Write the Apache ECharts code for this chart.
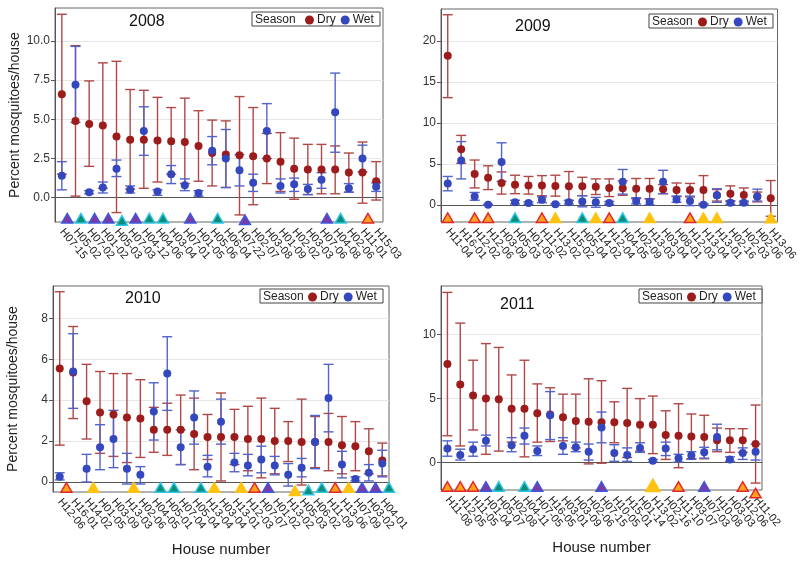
<!DOCTYPE html>
<html><head><meta charset="utf-8">
<script src="https://cdn.jsdelivr.net/npm/echarts@6/dist/echarts.min.js"></script>
<style>html,body{margin:0;padding:0;background:#fff}#c{width:800px;height:561px}</style>
</head><body><div id="c"></div>
<script>
// ---------- DATA ----------
const labels2008 = ['H07-15','H05-02','H07-02','H01-02','H05-03','H07-03','H04-12','H04-06','H03-04','H07-01','H01-05','H05-06','H06-04','H07-22','H02-07','H03-08','H01-09','H02-02','H03-03','H07-06','H04-08','H02-06','H11-01','H15-03'];
const dryMean2008 = [6.6,4.9,4.7,4.6,3.9,3.7,3.7,3.65,3.6,3.55,3.3,2.85,2.75,2.7,2.65,2.5,2.3,1.85,1.8,1.8,1.8,1.6,1.6,1.05];
const dryLow2008  = [1.5,0.1,2.0,0.6,-0.95,0.55,0.6,1.0,1.5,0.9,1.05,0.75,0.65,-1.1,-0.45,0.9,0.4,-0.1,0.2,0.25,0.25,0.35,-0.35,-0.15];
const dryHigh2008 = [11.7,9.7,7.45,8.6,8.7,6.9,6.85,6.4,5.75,6.35,5.55,4.95,4.9,6.45,5.75,4.1,4.15,3.8,3.4,3.4,3.3,2.85,3.55,2.3];
const wetMean2008 = [1.4,7.2,0.35,0.65,1.85,0.5,4.25,0.4,1.5,0.8,0.3,3.0,2.5,1.75,0.95,4.25,0.75,0.85,0.55,1.15,5.45,0.6,2.5,0.7];
const wetLow2008  = [0.5,4.8,0.25,0.3,1.35,0.3,2.7,0.15,0.9,0.45,0.1,2.1,0.65,0.75,0.4,2.5,0.3,0.4,0.2,0.6,2.9,0.35,1.65,0.4];
const wetHigh2008 = [2.3,9.65,0.45,1.0,2.4,0.75,5.8,0.5,2.05,1.2,0.45,3.9,4.35,2.75,1.5,6.0,1.2,1.25,0.85,1.6,7.95,0.9,3.35,0.95];
// triangle markers: [category number (1-based), level, kind]
const tri2008 = [[1,-1.32,'P'],[2,-1.32,'T'],[3,-1.32,'P'],[4,-1.32,'P'],[5,-1.47,'T'],[6,-1.32,'P'],[7,-1.32,'T'],[8,-1.32,'T'],[10,-1.32,'P'],[12,-1.32,'T'],[14,-1.43,'P'],[20,-1.32,'P'],[21,-1.32,'T'],[23,-1.32,'R']];
const yTicks2008 = [0,2.5,5,7.5,10];

const labels2009 = ['H11-04','H16-01','H12-02','H12-06','H03-09','H05-03','H01-05','H11-02','H13-02','H15-02','H05-04','H14-02','H12-04','H04-05','H02-09','H13-03','H03-04','H08-01','H12-03','H13-04','H13-01','H02-16','H02-03','H02-06','H13-06'];
const dryMean2009 = [18.2,6.8,3.8,3.35,2.7,2.5,2.4,2.4,2.35,2.3,2.3,2.25,2.1,2.05,2.0,2.0,1.95,1.85,1.85,1.85,1.2,1.4,1.25,1.05,0.85];
const dryLow2009  = [13.1,5.1,2.1,1.9,1.35,1.4,1.35,1.15,1.1,0.55,1.15,1.3,1.05,1.2,0.8,0.75,1.4,1.05,1.0,0.1,0.5,0.45,0.4,0.4,-1.35];
const dryHigh2009 = [23.2,8.5,5.5,4.8,4.05,3.65,3.5,3.6,3.65,4.1,3.4,3.2,3.2,2.95,3.25,3.25,2.5,2.7,2.65,3.6,1.9,2.35,2.1,1.6,3.0];
const wetMean2009 = [2.65,5.45,1.05,0.05,5.25,0.35,0.25,0.65,0.1,0.35,0.45,0.35,0.25,2.85,0.5,0.4,2.85,0.7,0.5,0.05,1.2,0.3,0.3,1.05,null];
const wetLow2009  = [1.75,3.2,0.6,0.0,2.9,0.15,0.1,0.3,0.0,0.15,-0.2,-0.25,0.1,1.35,0.15,0.05,1.4,0.35,-0.05,-0.05,0.35,0.1,0.1,0.5,null];
const wetHigh2009 = [3.5,7.75,1.55,0.1,7.6,0.6,0.4,1.0,0.2,0.6,1.15,0.95,0.45,4.35,0.9,0.8,4.25,1.1,1.1,0.2,2.0,0.55,0.5,1.95,null];
const tri2009 = [[1,-1.55,'R'],[3,-1.55,'R'],[4,-1.55,'R'],[6,-1.55,'T'],[8,-1.55,'R'],[9,-1.55,'Y'],[11,-1.55,'T'],[12,-1.55,'Y'],[13,-1.55,'R'],[14,-1.55,'T'],[16,-1.55,'Y'],[19,-1.55,'R'],[20,-1.55,'Y'],[21,-1.55,'Y'],[25,-1.6,'Y']];
const yTicks2009 = [0,5,10,15,20];

const labels2010 = ['H12-06','H16-01','H14-02','H01-05','H03-09','H13-03','H02-06','H04-05','H05-01','H07-04','H05-04','H13-04','H03-04','H13-01','H12-03','H07-07','H01-02','H13-02','H05-03','H06-02','H11-09','H13-06','H07-09','H03-02','H04-01'];
const dryMean2010 = [5.55,5.35,3.95,3.4,3.3,3.15,3.1,2.55,2.55,2.55,2.35,2.2,2.2,2.2,2.1,2.1,2.0,2.0,1.95,1.95,1.95,1.8,1.75,1.5,1.05];
const dryLow2010  = [1.8,3.1,2.1,1.4,1.25,0.95,1.2,1.45,1.3,0.85,0.6,1.1,0.05,0.85,0.55,0.2,0.4,1.0,-0.15,0.7,0.55,0.4,0.55,0.4,0.3];
const dryHigh2010 = [9.3,7.6,5.75,5.4,5.3,5.3,5.0,3.65,3.85,4.25,4.1,3.3,4.35,3.55,3.7,4.1,3.6,2.95,4.05,3.2,3.35,3.2,2.95,2.6,1.9];
const wetMean2010 = [0.25,5.4,0.65,1.7,2.1,0.65,0.35,3.45,5.3,1.7,3.15,0.75,2.95,0.95,0.8,1.1,0.8,0.35,0.7,1.95,4.1,0.85,0.15,0.45,0.9];
const wetLow2010  = [0.1,3.6,0.0,0.6,0.7,-0.1,-0.1,2.05,3.5,0.85,1.85,0.25,1.85,0.5,0.3,0.45,0.35,-0.2,0.25,0.65,2.45,0.2,0.05,0.05,0.25];
const wetHigh2010 = [0.45,7.25,1.35,2.8,3.5,1.4,0.75,4.85,7.1,2.55,4.45,1.3,4.05,1.4,1.35,1.75,1.25,0.9,1.15,3.25,5.75,1.5,0.25,0.85,1.55];
const tri2010 = [[1,-0.28,'R'],[3,-0.28,'Y'],[6,-0.28,'Y'],[8,-0.28,'T'],[9,-0.28,'T'],[11,-0.28,'T'],[12,-0.28,'Y'],[14,-0.28,'Y'],[15,-0.28,'R'],[16,-0.28,'P'],[18,-0.44,'Y'],[19,-0.41,'T'],[20,-0.28,'T'],[21,-0.28,'R'],[22,-0.28,'Y'],[23,-0.28,'P'],[24,-0.28,'P'],[25,-0.28,'T']];
const yTicks2010 = [0,2,4,6,8];

const labels2011 = ['H11-08','H12-05','H11-05','H01-04','H05-07','H02-08','H04-11','H07-05','H16-05','H03-01','H03-09','H02-06','H07-15','H10-05','H15-01','H01-14','H13-02','H02-16','H11-10','H03-07','H07-03','H10-08','H03-03','H12-06','H11-02'];
const dryMean2011 = [7.7,6.1,5.25,5.0,4.95,4.2,4.2,3.85,3.75,3.55,3.25,3.2,3.15,3.15,3.1,2.95,2.95,2.15,2.1,2.05,2.0,1.75,1.75,1.75,1.45];
const dryLow2011  = [2.1,1.3,2.55,0.65,0.9,1.6,0.45,1.6,1.65,1.7,1.15,-0.1,-0.05,1.55,0.4,0.9,0.7,0.25,-0.4,0.3,0.3,0.85,0.8,0.8,-1.6];
const dryHigh2011 = [13.3,10.9,8.0,9.3,9.0,6.85,8.0,6.15,5.85,5.35,5.35,6.55,6.4,4.75,5.8,5.0,5.2,4.05,4.6,3.8,3.7,2.7,2.65,2.65,4.5];
const wetMean2011 = [1.1,0.6,1.05,1.7,null,1.35,2.1,0.9,3.7,1.3,1.2,0.85,2.75,0.75,0.6,1.15,0.15,1.1,0.35,0.55,0.8,2.0,0.25,0.75,0.85];
const wetLow2011  = [0.5,0.2,0.5,1.3,null,0.85,1.45,0.55,1.8,0.65,0.85,0.2,1.55,0.1,0.1,0.8,0.05,0.55,0.05,0.25,0.35,1.0,0.1,0.25,0.2];
const wetHigh2011 = [1.7,1.05,1.6,2.15,null,1.95,2.7,1.3,5.55,1.95,1.6,1.45,3.95,1.4,1.15,1.55,0.25,1.6,0.65,0.85,1.2,3.0,0.45,1.15,1.45];
const tri2011 = [[1,-1.88,'R'],[2,-1.88,'R'],[3,-1.88,'R'],[4,-1.88,'P'],[5,-1.88,'T'],[7,-1.88,'T'],[8,-1.88,'P'],[13,-1.88,'P'],[17,-1.8,'Y'],[19,-1.88,'R'],[21,-1.88,'P'],[24,-1.88,'R'],[25,-2.4,'R']];
const yTicks2011 = [0,5,10];

// ---------- STYLE / LAYOUT ----------
const FONT = '"Liberation Sans", Arial, sans-serif';
const DRY = '#9c1c1c', DRYBAR = '#b04848';
const WET = '#3447bd', WETBAR = '#5263c9';
const TRI = {
  P:{fill:'#7b3aa6', stroke:'#3e58dc'},
  T:{fill:'#0e8d76', stroke:'#2cc6e8'},
  Y:{fill:'#ffc20e', stroke:'#ffc20e'},
  R:{fill:'#ffa31a', stroke:'#e3262a'}
};
const panels = [
  {year:'2008', labels:labels2008, dm:dryMean2008, dl:dryLow2008, dh:dryHigh2008, wm:wetMean2008, wl:wetLow2008, wh:wetHigh2008, tri:tri2008, ticks:yTicks2008, fmt:v=>v.toFixed(1),
   grid:{left:55, top:8, width:328, height:214}, min:-1.55, max:12.1, triOff:0.4, yName:true, xName:false,
   title:[146,23], leg:[252,12,128,14]},
  {year:'2009', labels:labels2009, dm:dryMean2009, dl:dryLow2009, dh:dryHigh2009, wm:wetMean2009, wl:wetLow2009, wh:wetHigh2009, tri:tri2009, ticks:yTicks2009, fmt:v=>String(v),
   grid:{left:441, top:9, width:341, height:213}, min:-2.05, max:23.9, triOff:0, yName:false, xName:false,
   title:[532,28], leg:[649,14,124,14]},
  {year:'2010', labels:labels2010, dm:dryMean2010, dl:dryLow2010, dh:dryHigh2010, wm:wetMean2010, wl:wetLow2010, wh:wetHigh2010, tri:tri2010, ticks:yTicks2010, fmt:v=>String(v),
   grid:{left:53, top:286, width:336, height:206}, min:-0.49, max:9.58, triOff:0.5, yName:true, xName:true,
   title:[142,300], leg:[260,289,123,14]},
  {year:'2011', labels:labels2011, dm:dryMean2011, dl:dryLow2011, dh:dryHigh2011, wm:wetMean2011, wl:wetLow2011, wh:wetHigh2011, tri:tri2011, ticks:yTicks2011, fmt:v=>String(v),
   grid:{left:441, top:286, width:321, height:204}, min:-2.14, max:13.8, triOff:0, yName:false, xName:true,
   title:[517,306], leg:[639,289,123,14]}
];

function errRender(color){
  return function(params, api){
    const x = api.value(0), lo = api.value(1), hi = api.value(2);
    const a = api.coord([x, lo]), b = api.coord([x, hi]);
    const w = 5, st = {stroke:color, lineWidth:1.4};
    return {type:'group', children:[
      {type:'line', shape:{x1:a[0],y1:a[1],x2:b[0],y2:b[1]}, style:st},
      {type:'line', shape:{x1:a[0]-w,y1:a[1],x2:a[0]+w,y2:a[1]}, style:st},
      {type:'line', shape:{x1:b[0]-w,y1:b[1],x2:b[0]+w,y2:b[1]}, style:st}
    ]};
  };
}
function triRender(list, off){
  return function(params, api){
    const c = api.coord([api.value(0), api.value(1)]);
    const bw = api.size([1,0])[0];
    const cx = c[0] + off*bw, cy = c[1];
    const s = TRI[list[params.dataIndex][2]];
    const big = (list===tri2011 && params.dataIndex===8) ? 1.3 : 1;
    const h = 5*big, w = 5.5*big;
    return {type:'polygon', shape:{points:[[cx,cy-h],[cx-w,cy+h*0.9],[cx+w,cy+h*0.9]]},
      style:{fill:s.fill, stroke:s.stroke, lineWidth:1.5}};
  };
}

const grid=[], xAxis=[], yAxis=[], series=[], graphic=[], legend=[];
panels.forEach((p,i)=>{
  grid.push(Object.assign({show:true, borderColor:'#666', borderWidth:1, containLabel:false}, p.grid));
  xAxis.push({type:'category', gridIndex:i, data:p.labels, boundaryGap:true,
    axisLine:{lineStyle:{color:'#555'}}, axisTick:{alignWithLabel:true, length:4, lineStyle:{color:'#555'}},
    axisLabel:{interval:0, rotate:-50, fontSize:11, color:'#222', fontFamily:FONT, margin:8},
    name:p.xName?'House number':'', nameLocation:'middle', nameGap:50,
    nameTextStyle:{fontSize:15, color:'#222', fontFamily:FONT}});
  yAxis.push({type:'value', gridIndex:i, min:p.min, max:p.max,
    axisLine:{show:true, lineStyle:{color:'#555'}},
    axisTick:{show:true, length:4, customValues:p.ticks, lineStyle:{color:'#555'}},
    axisLabel:{customValues:p.ticks, formatter:p.fmt, fontSize:12, color:'#333', fontFamily:FONT, margin:5},
    splitLine:{show:true, lineStyle:{color:'#e6e6e6'}},
    name:p.yName?'Percent mosquitoes/house':'', nameLocation:'middle', nameGap:33,
    nameTextStyle:{fontSize:14, color:'#222', fontFamily:FONT}});
  const dryBars = p.dm.map((v,k)=>[k, p.dl[k], p.dh[k]]);
  const wetBars = p.wm.map((v,k)=>v==null?null:[k, p.wl[k], p.wh[k]]).filter(d=>d);
  series.push({type:'custom', name:'DryErr', xAxisIndex:i, yAxisIndex:i, renderItem:errRender(DRYBAR), data:dryBars, encode:{x:0,y:[1,2]}, z:2, silent:true});
  series.push({type:'custom', name:'WetErr', xAxisIndex:i, yAxisIndex:i, renderItem:errRender(WETBAR), data:wetBars, encode:{x:0,y:[1,2]}, z:3, silent:true});
  series.push({type:'scatter', name:'Dry', xAxisIndex:i, yAxisIndex:i, symbol:'circle', symbolSize:8,
    itemStyle:{color:DRY, opacity:1}, data:p.dm.map((v,k)=>[k,v]), z:4});
  series.push({type:'scatter', name:'Wet', xAxisIndex:i, yAxisIndex:i, symbol:'circle', symbolSize:8,
    itemStyle:{color:WET, opacity:1}, data:p.wm.map((v,k)=>v==null?[k,'-']:[k,v]), z:5});
  series.push({type:'custom', name:'Tri', xAxisIndex:i, yAxisIndex:i, renderItem:triRender(p.tri, p.triOff), clip:false,
    data:p.tri.map(t=>[t[0]-1, t[1]]), encode:{x:0,y:1}, z:6, silent:true});
  graphic.push({type:'text', left:p.title[0]-17, top:p.title[1]-9, style:{text:p.year, fontSize:16, fill:'#111', fontFamily:FONT}});
  const L = p.leg;
  graphic.push({type:'rect', shape:{x:L[0], y:L[1], width:L[2], height:L[3]}, style:{fill:'#fff', stroke:'#444', lineWidth:1}, z:10});
  graphic.push({type:'text', x:L[0]+3, y:L[1]+1.5, style:{text:'Season', fontSize:12, fill:'#222', fontFamily:FONT}, z:11});
  legend.push({data:['Dry','Wet'], left:L[0]+L[2]-75, top:L[1]+2, itemWidth:9, itemHeight:9, itemGap:5, padding:0, selectedMode:false,
    icon:'circle', textStyle:{fontSize:12, color:'#222', fontFamily:FONT, padding:[0,0,0,-2]}, z:12});
});

const chart = echarts.init(document.getElementById('c'), null, {renderer:'canvas'});
chart.setOption({animation:false, backgroundColor:'#fff', grid, xAxis, yAxis, series, graphic, legend});
</script></body></html>
